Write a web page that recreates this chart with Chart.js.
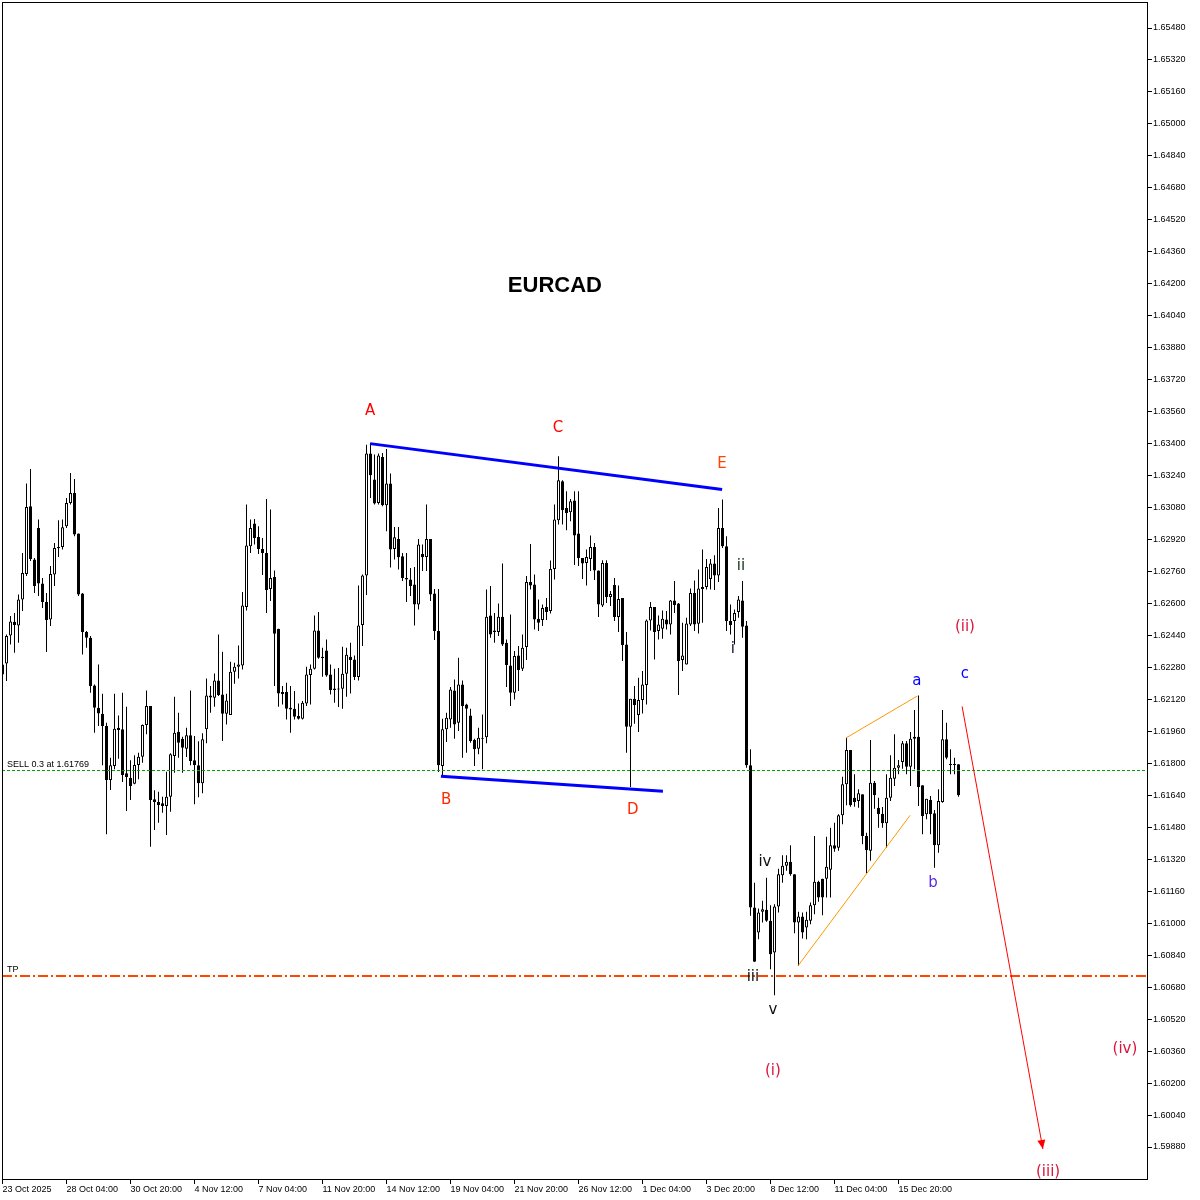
<!DOCTYPE html>
<html><head><meta charset="utf-8">
<script src="https://cdn.jsdelivr.net/npm/chart.js@4"></script>
<style>html,body{margin:0;padding:0;background:#fff}#wrap{width:1200px;height:1200px}</style>
</head><body><div id="wrap"><canvas id="c" width="1200" height="1200"></canvas></div>
<script>
const symbol = 'EURCAD';
const open = [1.62295,1.6230,1.6244,1.62508,1.6249,1.6262,1.62748,1.63087,1.6282,1.62978,
1.6270,1.62607,1.6252,1.62745,1.62877,1.62883,1.62987,1.63103,1.63153,1.6295,
1.6265,1.62457,1.62428,1.6219,1.62078,1.62048,1.61987,1.61717,1.61787,1.61978,
1.6197,1.6175,1.61728,1.61698,1.61792,1.61833,1.61992,1.62087,1.6162,1.61607,
1.6160,1.61587,1.61633,1.61837,1.61958,1.61923,1.61873,1.6194,1.61815,1.6179,
1.6170,1.6197,1.6214,1.62128,1.62215,1.62145,1.62048,1.62042,1.62258,1.62283,
1.6229,1.62582,1.62887,1.6300,1.62933,1.62873,1.62853,1.62673,1.62733,1.62473,
1.62157,1.62157,1.62078,1.62073,1.62037,1.62023,1.6210,1.62242,1.62273,1.62465,
1.62333,1.62365,1.62245,1.62175,1.6217,1.62173,1.62248,1.62333,1.6232,1.62232,
1.62492,1.6274,1.6335,1.6322,1.63103,1.63333,1.63092,1.6320,1.62873,1.62923,
1.62837,1.62728,1.6272,1.62695,1.62595,1.62848,1.62833,1.62923,1.6265,1.62462,
1.61787,1.6197,1.6202,1.62165,1.62003,1.62195,1.62095,1.6204,1.61917,1.61873,
1.61928,1.6193,1.6254,1.62465,1.62457,1.62533,1.62403,1.6229,1.62153,1.6234,
1.62273,1.62382,1.62708,1.62695,1.62523,1.62517,1.62583,1.62562,1.62773,1.63017,
1.63212,1.63078,1.63057,1.63115,1.6295,1.62828,1.62803,1.62823,1.62883,1.62765,
1.6259,1.62803,1.62632,1.62692,1.62532,1.62628,1.62395,1.61983,1.62123,1.62042,
1.62117,1.62192,1.62515,1.62582,1.62462,1.62473,1.6252,1.62495,1.62615,1.6260,
1.62317,1.62295,1.62495,1.62653,1.62498,1.62673,1.62683,1.62723,1.6280,1.6274,
1.62978,1.62887,1.62512,1.62512,1.62557,1.62615,1.6249,1.6179,1.61078,1.60953,
1.61057,1.61067,1.61012,1.60853,1.61083,1.6124,1.61287,1.61307,1.61245,1.61003,
1.61033,1.60978,1.61012,1.6109,1.61207,1.61223,1.61223,1.61267,1.6139,1.61378,
1.6154,1.61695,1.61867,1.61628,1.61612,1.61645,1.61437,1.61362,1.61703,1.61578,
1.61548,1.6150,1.61628,1.61723,1.61778,1.61807,1.6190,1.61783,1.61933,1.61933,
1.6169,1.61545,1.61617,1.6155,1.6139,1.61607,1.6192,1.61795,1.61792,1.61795];
const high = [1.6232,1.62445,1.62537,1.62553,1.62645,1.62853,1.6320,1.63273,1.62828,1.6302,
1.62728,1.62653,1.62787,1.62903,1.63017,1.6302,1.63128,1.63253,1.63223,1.6295,
1.62653,1.62462,1.62437,1.62195,1.62295,1.62148,1.62003,1.61828,1.62148,1.6204,
1.62153,1.62083,1.61815,1.6184,1.61853,1.61995,1.62165,1.62087,1.61665,1.61658,
1.61633,1.61758,1.6185,1.62133,1.62053,1.61933,1.61978,1.62165,1.61937,1.6191,
1.6195,1.62225,1.62187,1.6225,1.62445,1.62358,1.62148,1.62308,1.62303,1.6239,
1.62658,1.63095,1.6302,1.63023,1.62987,1.62928,1.63123,1.6307,1.62765,1.62473,
1.62187,1.62203,1.62187,1.62162,1.6210,1.62112,1.62283,1.62295,1.6254,1.62557,
1.62378,1.6242,1.62295,1.62273,1.62277,1.62383,1.62378,1.62403,1.6234,1.6269,
1.62745,1.63395,1.63403,1.63345,1.6335,1.63353,1.63373,1.6325,1.62983,1.62983,
1.62853,1.62853,1.62778,1.62783,1.62923,1.62895,1.63095,1.62923,1.62673,1.62673,
1.62023,1.62053,1.62182,1.6222,1.62328,1.62215,1.62098,1.62073,1.61923,1.61978,
1.62045,1.6267,1.62687,1.62553,1.6260,1.6280,1.6242,1.62545,1.62362,1.62387,
1.62445,1.62737,1.62898,1.62745,1.6262,1.62595,1.62628,1.62815,1.63095,1.63337,
1.63217,1.63162,1.63123,1.63162,1.63162,1.62828,1.6287,1.6294,1.62903,1.62765,
1.62817,1.62817,1.62662,1.62728,1.6269,1.62628,1.62457,1.62123,1.62187,1.62228,
1.62262,1.6252,1.62608,1.62582,1.6254,1.62565,1.62562,1.62617,1.62712,1.62603,
1.62503,1.62528,1.62675,1.62715,1.6277,1.6287,1.62823,1.62823,1.62842,1.63078,
1.6312,1.62937,1.62595,1.6257,1.62637,1.62712,1.62512,1.6187,1.61203,1.61073,
1.61112,1.61228,1.6109,1.61095,1.61273,1.6134,1.6134,1.6139,1.61245,1.61057,
1.61053,1.61057,1.61103,1.61437,1.61212,1.61223,1.61433,1.61478,1.61503,1.61545,
1.61733,1.61928,1.61867,1.61745,1.6167,1.61645,1.61453,1.61917,1.61712,1.61628,
1.61582,1.61745,1.6184,1.61945,1.61817,1.61912,1.61912,1.61957,1.62067,1.6214,
1.6169,1.61623,1.61637,1.61567,1.6167,1.62067,1.62003,1.6187,1.61828,1.61795];
const low = [1.62237,1.62212,1.62395,1.62353,1.62403,1.62562,1.62737,1.62812,1.62653,1.62637,
1.62578,1.62357,1.62487,1.62687,1.62833,1.6287,1.62978,1.63095,1.62937,1.62637,
1.62345,1.62378,1.62153,1.61953,1.61987,1.6179,1.61445,1.61667,1.6177,1.61823,
1.61707,1.61562,1.61617,1.61695,1.6172,1.61803,1.61945,1.61383,1.61467,1.61503,
1.61553,1.61442,1.61558,1.61753,1.61828,1.61753,1.61832,1.6179,1.61595,1.6163,
1.6165,1.6190,1.62053,1.62083,1.62137,1.61912,1.61995,1.62042,1.62198,1.62225,
1.6227,1.62565,1.62853,1.62895,1.62848,1.62742,1.62553,1.62612,1.62187,1.62083,
1.62095,1.6202,1.61953,1.6202,1.6202,1.6202,1.62087,1.62095,1.6227,1.62323,
1.62233,1.62233,1.62145,1.62103,1.62082,1.62073,1.62133,1.6215,1.62217,1.62215,
1.62387,1.62642,1.63128,1.63095,1.63095,1.63087,1.62962,1.6278,1.6282,1.6277,
1.62712,1.62607,1.62637,1.6249,1.6257,1.62762,1.62762,1.62612,1.62417,1.61757,
1.61737,1.61907,1.61978,1.61923,1.61962,1.61828,1.61853,1.61903,1.61787,1.61845,
1.6177,1.6190,1.62428,1.62403,1.62437,1.62387,1.62182,1.62087,1.6212,1.62162,
1.62262,1.62317,1.6267,1.6247,1.62462,1.62487,1.62517,1.6255,1.6272,1.62995,
1.62995,1.62967,1.63012,1.62792,1.62787,1.62723,1.6269,1.62762,1.62717,1.62532,
1.62583,1.62603,1.62587,1.62512,1.62457,1.62312,1.61853,1.61682,1.61998,1.61957,
1.6205,1.62095,1.62465,1.6232,1.6242,1.62423,1.6247,1.62445,1.62553,1.62142,
1.62262,1.62295,1.62487,1.62462,1.6245,1.62503,1.6267,1.6267,1.62667,1.62707,
1.62878,1.62462,1.62445,1.62395,1.62528,1.62428,1.61778,1.61037,1.60807,1.6092,
1.61003,1.61007,1.6077,1.6064,1.61053,1.61203,1.61262,1.61237,1.6095,1.60787,
1.60923,1.6092,1.60995,1.61045,1.61107,1.6104,1.61128,1.61128,1.61357,1.61362,
1.61495,1.6159,1.61583,1.61583,1.61578,1.61395,1.6125,1.61312,1.61573,1.61478,
1.61478,1.61378,1.61612,1.61687,1.61745,1.61773,1.61745,1.61687,1.6177,1.61587,
1.61445,1.6152,1.61445,1.61278,1.61353,1.61603,1.6182,1.61745,1.61745,1.61633];
const close = [1.62245,1.62437,1.6251,1.62492,1.6262,1.62753,1.63083,1.62823,1.62687,1.6270,
1.62607,1.62517,1.62748,1.62878,1.62883,1.62982,1.63103,1.63153,1.62945,1.62645,
1.62457,1.62428,1.62187,1.62078,1.6205,1.61987,1.61717,1.6179,1.61973,1.61967,
1.61742,1.61732,1.61687,1.61792,1.61833,1.61992,1.62087,1.61617,1.61607,1.61592,
1.61587,1.61633,1.61845,1.61953,1.61903,1.61878,1.6194,1.61812,1.61792,1.6170,
1.6192,1.6214,1.6213,1.62215,1.62142,1.62048,1.62115,1.62258,1.62283,1.62295,
1.6259,1.6289,1.62978,1.62928,1.62873,1.62853,1.62667,1.62728,1.62448,1.6215,
1.62147,1.62073,1.6207,1.62033,1.62023,1.62103,1.62245,1.62273,1.62465,1.62328,
1.62327,1.6224,1.62167,1.62167,1.62173,1.62248,1.62343,1.62317,1.62232,1.6249,
1.6274,1.6335,1.63242,1.6310,1.6334,1.63092,1.6320,1.6287,1.62932,1.62832,
1.62728,1.6272,1.62687,1.62595,1.62895,1.62832,1.62923,1.62645,1.62462,1.6179,
1.6197,1.62028,1.6217,1.61995,1.62195,1.62087,1.62073,1.61912,1.6187,1.61928,
1.61923,1.62533,1.62445,1.62457,1.62533,1.62395,1.62292,1.62153,1.62337,1.62267,
1.62378,1.62708,1.6269,1.6252,1.62503,1.62578,1.62557,1.62773,1.6302,1.63217,
1.63067,1.63053,1.63112,1.6294,1.62828,1.6280,1.62833,1.62883,1.62765,1.62595,
1.62803,1.62632,1.62648,1.62532,1.62623,1.62392,1.61983,1.62123,1.62092,1.62117,
1.62195,1.62515,1.62582,1.62457,1.62495,1.62523,1.62495,1.62615,1.62592,1.62312,
1.6234,1.6250,1.62653,1.62495,1.62675,1.62683,1.62783,1.6280,1.6274,1.62978,
1.62887,1.62512,1.62492,1.62553,1.6262,1.62483,1.6179,1.61078,1.60807,1.61053,
1.6107,1.61012,1.60845,1.61083,1.61245,1.61287,1.61307,1.61245,1.61003,1.61033,
1.60953,1.61017,1.6109,1.61207,1.61128,1.61128,1.61283,1.6139,1.61373,1.6154,
1.61695,1.61867,1.6159,1.61607,1.6165,1.61437,1.61365,1.61703,1.6164,1.61545,
1.6150,1.61628,1.61728,1.61778,1.6179,1.6190,1.61783,1.61923,1.61923,1.61682,
1.61537,1.61623,1.61545,1.6139,1.61612,1.6192,1.61828,1.61792,1.61792,1.6164];

const timeLabels = ['23 Oct 2025','28 Oct 04:00','30 Oct 20:00','4 Nov 12:00','7 Nov 04:00',
  '11 Nov 20:00','14 Nov 12:00','19 Nov 04:00','21 Nov 20:00','26 Nov 12:00',
  '1 Dec 04:00','3 Dec 20:00','8 Dec 12:00','11 Dec 04:00','15 Dec 20:00'];
const barsPerLabel = 16;
const priceTickLabels = ['1.65480','1.65320','1.65160','1.65000','1.64840','1.64680','1.64520','1.64360',
  '1.64200','1.64040','1.63880','1.63720','1.63560','1.63400','1.63240','1.63080','1.62920','1.62760',
  '1.62600','1.62440','1.62280','1.62120','1.61960','1.61800','1.61640','1.61480','1.61320','1.61160',
  '1.61000','1.60840','1.60680','1.60520','1.60360','1.60200','1.60040','1.59880'];
const priceRange = [1.5971986, 1.6561012];
const barRange = [-0.125, 286.125];

const sellLevel = 1.61769;
const tpLevel = 1.6074;
const levelLines = [
  {label:'SELL 0.3 at 1.61769', price: sellLevel, color:'#00a000', dash:[3,2], h:1},
  {label:'TP', price: tpLevel, color:'#ff4500', dash:[10,3,2,3], h:2}
];
const trendLines = [
  {i1:91.9, p1:1.6340, i2:179.9, p2:1.6317, color:'#0000ff', w:3},
  {i1:109.6, p1:1.61735, i2:165.1, p2:1.6166, color:'#0000ff', w:3},
  {i1:210.95, p1:1.61928, i2:228.7, p2:1.62137, color:'#ff9900', w:1},
  {i1:198.9, p1:1.60787, i2:226.9, p2:1.6154, color:'#ff9900', w:1}
];
const arrows = [{i1:239.9, p1:1.62085, i2:260.1, p2:1.5987, color:'#ff0000'}];
const waveLabels = [
  {t:'A', i:91.9, p:1.63565, c:'#ff0000'},
  {t:'B', i:110.9, p:1.61615, c:'#ff2a00'},
  {t:'C', i:138.9, p:1.6348, c:'#ff0000'},
  {t:'D', i:157.6, p:1.61565, c:'#ff2a00'},
  {t:'E', i:179.9, p:1.6330, c:'#ff4500'},
  {t:'i', i:182.6, p:1.6237, c:'#101030'},
  {t:'ii', i:184.6, p:1.62785, c:'#103018'},
  {t:'iii', i:187.6, p:1.6073, c:'#101010'},
  {t:'iv', i:190.6, p:1.61305, c:'#101010'},
  {t:'v', i:192.6, p:1.60565, c:'#101010'},
  {t:'(i)', i:192.6, p:1.6026, c:'#dc143c'},
  {t:'(ii)', i:240.6, p:1.6248, c:'#dc143c'},
  {t:'(iii)', i:261.4, p:1.59755, c:'#dc143c'},
  {t:'(iv)', i:280.6, p:1.6037, c:'#dc143c'},
  {t:'a', i:228.6, p:1.6221, c:'#0000ff'},
  {t:'b', i:232.6, p:1.6120, c:'#5a2be2'},
  {t:'c', i:240.6, p:1.62245, c:'#0000ff'}
];
const titlePos = {i:138.1, p:1.6419};

const idx = open.map((_, i) => i);
const wickData = idx.map(i => ({x: i, y: [low[i], high[i]]}));
const bodyData = idx.map(i => ({x: i, y: [open[i], close[i]]}));

const overlay = {
  id: 'overlay',
  afterDatasetsDraw(chart) {
    const {ctx, chartArea: a, scales: {x, y}} = chart;
    ctx.save();
    ctx.beginPath(); ctx.rect(a.left, a.top, a.right - a.left, a.bottom - a.top); ctx.clip();
    levelLines.forEach(l => {
      const yy = Math.round(y.getPixelForValue(l.price));
      ctx.fillStyle = l.color;
      let px = a.left, k = 0;
      while (px < a.right) {
        const seg = l.dash[k % l.dash.length];
        if (k % 2 === 0) ctx.fillRect(px, yy, Math.min(seg, a.right - px), l.h);
        px += seg; k++;
      }
      ctx.fillStyle = '#000'; ctx.font = '9px "Liberation Sans"';
      ctx.textAlign = 'left'; ctx.textBaseline = 'alphabetic';
      ctx.fillText(l.label, a.left + 5, yy - 3);
    });
    trendLines.forEach(l => {
      ctx.strokeStyle = l.color; ctx.lineWidth = l.w;
      ctx.beginPath();
      ctx.moveTo(x.getPixelForValue(l.i1), y.getPixelForValue(l.p1));
      ctx.lineTo(x.getPixelForValue(l.i2), y.getPixelForValue(l.p2));
      ctx.stroke();
    });
    arrows.forEach(l => {
      const x1 = x.getPixelForValue(l.i1), y1 = y.getPixelForValue(l.p1);
      const x2 = x.getPixelForValue(l.i2), y2 = y.getPixelForValue(l.p2);
      const ang = Math.atan2(y2 - y1, x2 - x1);
      ctx.strokeStyle = l.color; ctx.fillStyle = l.color; ctx.lineWidth = 1;
      ctx.beginPath(); ctx.moveTo(x1, y1); ctx.lineTo(x2, y2); ctx.stroke();
      const L = 9, W = 4;
      ctx.beginPath();
      ctx.moveTo(x2, y2);
      ctx.lineTo(x2 - L * Math.cos(ang) + W * Math.sin(ang), y2 - L * Math.sin(ang) - W * Math.cos(ang));
      ctx.lineTo(x2 - L * Math.cos(ang) - W * Math.sin(ang), y2 - L * Math.sin(ang) + W * Math.cos(ang));
      ctx.closePath(); ctx.fill();
    });
    ctx.textAlign = 'center'; ctx.textBaseline = 'middle';
    ctx.font = '15px "DejaVu Sans"';
    waveLabels.forEach(l => {
      ctx.fillStyle = l.c;
      ctx.fillText(l.t, x.getPixelForValue(l.i), y.getPixelForValue(l.p));
    });
    ctx.font = 'bold 22px "Liberation Sans"'; ctx.fillStyle = '#000';
    ctx.fillText(symbol, x.getPixelForValue(titlePos.i), y.getPixelForValue(titlePos.p));
    ctx.restore();
  },
  afterDraw(chart) {
    const {ctx, chartArea: a} = chart;
    ctx.save();
    ctx.strokeStyle = '#000'; ctx.lineWidth = 1;
    ctx.strokeRect(a.left + 0.5, a.top + 0.5, a.right - a.left, a.bottom - a.top);
    ctx.restore();
  }
};

new Chart(document.getElementById('c'), {
  type: 'bar',
  data: {
    datasets: [
      {data: wickData, backgroundColor: '#000', borderWidth: 0, barThickness: 1, maxBarThickness: 1,
       grouped: false, order: 2, inflateAmount: 0},
      {data: bodyData,
       backgroundColor: c => close[c.dataIndex] > open[c.dataIndex] ? '#fff' : '#000',
       borderColor: '#000', borderWidth: 1, borderSkipped: false, barThickness: 3, maxBarThickness: 3,
       minBarLength: 1, grouped: false, order: 1, inflateAmount: 0}
    ]
  },
  options: {
    responsive: false, animation: false, devicePixelRatio: 1,
    layout: {padding: {left: 2, top: 2, right: 0, bottom: 0}},
    plugins: {legend: {display: false}, tooltip: {enabled: false}, title: {display: false}},
    scales: {
      x: {
        type: 'linear', position: 'bottom', min: barRange[0], max: barRange[1], offset: false,
        afterBuildTicks: s => { s.ticks = timeLabels.map((_, k) => ({value: k * barsPerLabel})); },
        afterFit: s => { s.height = 21; s.paddingLeft = 0; s.paddingRight = 0; },
        grid: {drawOnChartArea: false, drawTicks: true, tickLength: 5, tickColor: '#000', offset: false},
        border: {display: false},
        ticks: {color: '#000', font: {family: 'Liberation Sans', size: 9}, padding: 0, align: 'start',
                maxRotation: 0, minRotation: 0, autoSkip: false,
                callback: v => timeLabels[Math.round(v / barsPerLabel)]}
      },
      y: {
        type: 'linear', position: 'right', min: priceRange[0], max: priceRange[1],
        afterBuildTicks: s => { s.ticks = priceTickLabels.map(v => ({value: parseFloat(v)})); },
        afterFit: s => { s.width = 53; s.paddingTop = 0; s.paddingBottom = 0; },
        grid: {drawOnChartArea: false, drawTicks: true, tickLength: 5, tickColor: '#000'},
        border: {display: false},
        ticks: {color: '#000', font: {family: 'Liberation Sans', size: 9}, padding: 1, autoSkip: false,
                callback: v => v.toFixed(5)}
      }
    }
  },
  plugins: [overlay]
});
</script></body></html>
